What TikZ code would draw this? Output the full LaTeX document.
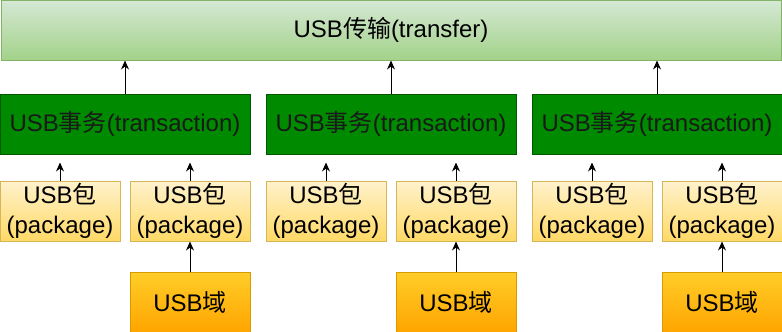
\documentclass[tikz,border=0pt]{standalone}
\usepackage{fontspec}
\setmainfont{Liberation Sans}
\newfontfamily\cjk{Noto Sans CJK SC}
\usepackage{xcolor}
\usetikzlibrary{arrows.meta, positioning}

\definecolor{transtop}{HTML}{D5E8D4}
\definecolor{transbot}{HTML}{A3D28A}
\definecolor{transline}{HTML}{82B366}
\definecolor{txgreen}{HTML}{008A00}
\definecolor{txline}{HTML}{005700}
\definecolor{pkgtop}{HTML}{FFF2CC}
\definecolor{pkgbot}{HTML}{FFD966}
\definecolor{pkgline}{HTML}{D6B656}
\definecolor{fldtop}{HTML}{FFCD28}
\definecolor{fldbot}{HTML}{FFA500}
\definecolor{fldline}{HTML}{D79B00}

\begin{document}
\begin{tikzpicture}[node distance=7.5pt,
    box/.style={rectangle, line width=0.5pt, inner sep=0pt,
                minimum height=30pt, align=center,
                font=\fontsize{12}{15}\selectfont},
    transfer/.style={box, draw=transline, top color=transtop, bottom color=transbot,
                minimum width=390pt},
    trans/.style={box, draw=txline, fill=txgreen, text=black!90, minimum width=125pt},
    pkg/.style={box, draw=pkgline, top color=pkgtop, bottom color=pkgbot,
                minimum width=60pt},
    field/.style={box, draw=fldline, top color=fldtop, bottom color=fldbot,
                minimum width=60pt},
    arrow/.style={-{Stealth[length=4.5pt, width=4pt]}, line width=0.5pt}]

\useasboundingbox (0,0) rectangle (391pt,-166pt);

\node[transfer] (xfer) at (195.5pt,-15pt) {USB{\cjk 传输}(transfer)};

\node[trans] (tx1) at (62.5pt,-62pt) {USB{\cjk 事务}(transaction)};
\node[trans, right=of tx1] (tx2) {USB{\cjk 事务}(transaction)};
\node[trans, right=of tx2] (tx3) {USB{\cjk 事务}(transaction)};

% packages under each transaction
\foreach \t in {1,2,3} {
  \node[pkg, below=13pt of tx\t.south west, anchor=north west] (pa\t) {USB{\cjk 包}\\(package)};
  \node[pkg, below=13pt of tx\t.south east, anchor=north east] (pb\t) {USB{\cjk 包}\\(package)};
  \node[field, below=15pt of pb\t] (fd\t) {USB{\cjk 域}};
  \draw[arrow] (tx\t) -- (tx\t |- xfer.south);
  \draw[arrow, shorten >=4pt] (pa\t) -- (pa\t |- tx\t.south);
  \draw[arrow, shorten >=4pt] (pb\t) -- (pb\t |- tx\t.south);
  \draw[arrow] (fd\t) -- (pb\t);
}
\end{tikzpicture}
\end{document}
